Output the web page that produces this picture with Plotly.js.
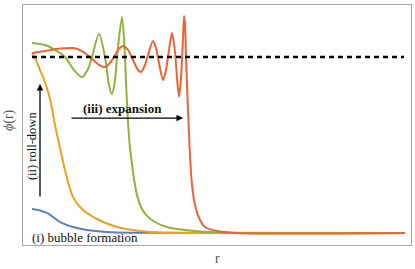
<!DOCTYPE html>
<html>
<head>
<meta charset="utf-8">
<script src="https://cdn.plot.ly/plotly-3.0.1.min.js"></script>
<style>html,body{margin:0;padding:0;background:#fff;}#chart{width:415px;height:269px;}</style>
</head>
<body>
<div id="chart"></div>
<script>
// (i) bubble formation
const rBlue   = [0, 0.2, 0.375, 0.525, 0.7, 0.875, 1.025, 1.375, 1.875, 2.45, 9.325];
const phiBlue = [0.136, 0.128, 0.114, 0.091, 0.0625, 0.045, 0.034, 0.017, 0.006, 0.002, 0];

// (ii) roll-down
const rOrange   = [0, 0.1, 0.2, 0.325, 0.45, 0.575, 0.7, 0.8, 0.9, 1.025, 1.2, 1.525, 2.125, 2.95, 4.2, 9.325];
const phiOrange = [1.023, 0.983, 0.926, 0.858, 0.761, 0.614, 0.483, 0.381, 0.290, 0.205, 0.148, 0.091, 0.034, 0.006, 0, 0];

// intermediate profile
const rGreen   = [0, 0.325, 0.575, 0.825, 1.05, 1.25, 1.4, 1.5, 1.675, 1.825, 1.925, 2.0, 2.075, 2.125, 2.25, 2.325, 2.35, 2.4, 2.45, 2.5, 2.55, 2.625, 2.725, 2.875, 3.075, 3.375, 3.825, 4.375, 5.2, 9.325];
const phiGreen = [1.080, 1.068, 1.040, 1.0, 0.926, 0.886, 0.932, 1.0, 1.131, 1.0, 0.841, 0.790, 0.869, 1.0, 1.227, 1.0, 0.858, 0.631, 0.483, 0.392, 0.307, 0.216, 0.148, 0.097, 0.0625, 0.034, 0.017, 0.006, 0, 0];

// (iii) expansion
const rRed   = [0, 0.325, 0.7, 1.025, 1.25, 1.45, 1.65, 1.825, 1.95, 2.05, 2.15, 2.275, 2.4, 2.525, 2.65, 2.725, 2.825, 2.9, 3.025, 3.1, 3.175, 3.275, 3.35, 3.425, 3.5, 3.575, 3.625, 3.675, 3.725, 3.775, 3.8, 3.825, 3.85, 3.9, 3.95, 4.0, 4.075, 4.2, 4.325, 4.625, 5.075, 9.325];
const phiRed = [1.023, 1.034, 1.048, 1.051, 1.034, 1.0, 0.960, 0.943, 0.966, 1.0, 1.040, 1.063, 1.040, 0.983, 0.926, 0.915, 0.955, 1.011, 1.091, 1.051, 0.966, 0.869, 0.926, 1.040, 1.136, 1.028, 0.881, 0.773, 0.881, 1.108, 1.233, 1.188, 1.0, 0.699, 0.443, 0.273, 0.159, 0.074, 0.034, 0.011, 0, 0];

// false vacuum level
const rVac   = [0, 9.3];
const phiVac = [1, 1];

const labels = {
  bubble: "(i) bubble formation",
  roll: "(ii) roll-down",
  expansion: "<b>(iii) expansion</b>",
  ytitle: "<i>ϕ</i>(r)",
  xtitle: "r"
};

const serif = "Liberation Serif, Times New Roman, serif";

function line(x, y, color, w) {
  return {x: x, y: y, type: 'scatter', mode: 'lines',
          line: {color: color, width: w || 2, shape: 'spline', smoothing: 0.8},
          hoverinfo: 'skip', showlegend: false};
}

const data = [
  line(rBlue, phiBlue, '#5B7EBE'),
  line(rOrange, phiOrange, '#EFA020'),
  line(rGreen, phiGreen, '#8DB53C'),
  line(rRed, phiRed, '#EE6235'),
  {x: rVac, y: phiVac, type: 'scatter', mode: 'lines',
   line: {color: '#000', width: 2.5, dash: '5px,4px'}, hoverinfo: 'skip', showlegend: false}
];

const layout = {
  width: 415, height: 269,
  margin: {l: 23, r: 4, t: 5, b: 24},
  paper_bgcolor: '#fff', plot_bgcolor: '#fff',
  xaxis: {range: [-0.225, 9.475], showticklabels: false, ticks: '', showgrid: false, zeroline: false,
          showline: true, mirror: true, linecolor: '#a6a6a6', linewidth: 1},
  yaxis: {range: [-0.0682, 1.2955], showticklabels: false, ticks: '', showgrid: false, zeroline: false,
          showline: true, mirror: true, linecolor: '#a6a6a6', linewidth: 1},
  annotations: [
    // roll-down arrow
    {x: 0.2, y: 0.847, ax: 0.2, ay: 0.199, xref: 'x', yref: 'y', axref: 'x', ayref: 'y',
     showarrow: true, arrowhead: 2, arrowsize: 1, arrowwidth: 1.3, arrowcolor: '#000', text: ''},
    // expansion arrow
    {x: 3.775, y: 0.653, ax: 0.95, ay: 0.653, xref: 'x', yref: 'y', axref: 'x', ayref: 'y',
     showarrow: true, arrowhead: 2, arrowsize: 1, arrowwidth: 1.3, arrowcolor: '#000', text: ''},
    {x: 2.25, y: 0.71, xref: 'x', yref: 'y', xanchor: 'center', yanchor: 'middle', text: labels.expansion, showarrow: false,
     font: {family: serif, size: 13, color: '#111'}},
    {x: 0.0, y: 0.494, xref: 'x', yref: 'y', xanchor: 'center', yanchor: 'middle', text: labels.roll, showarrow: false, textangle: -90,
     font: {family: serif, size: 12.5, color: '#111'}},
    {x: -0.05, y: -0.028, xref: 'x', yref: 'y', xanchor: 'left', yanchor: 'middle', text: labels.bubble, showarrow: false,
     font: {family: serif, size: 13, color: '#111'}},
    {x: -0.036, y: 0.521, xref: 'paper', yref: 'paper', xanchor: 'center', yanchor: 'middle', text: labels.ytitle, showarrow: false, textangle: -90,
     font: {family: serif, size: 14, color: '#595959'}},
    {x: 0.5, y: -0.0958, xref: 'paper', yref: 'paper', xanchor: 'center', yanchor: 'bottom', text: labels.xtitle, showarrow: false,
     font: {family: serif, size: 14, color: '#595959'}}
  ]
};

Plotly.newPlot('chart', data, layout, {staticPlot: true, displayModeBar: false});
</script>
</body>
</html>
